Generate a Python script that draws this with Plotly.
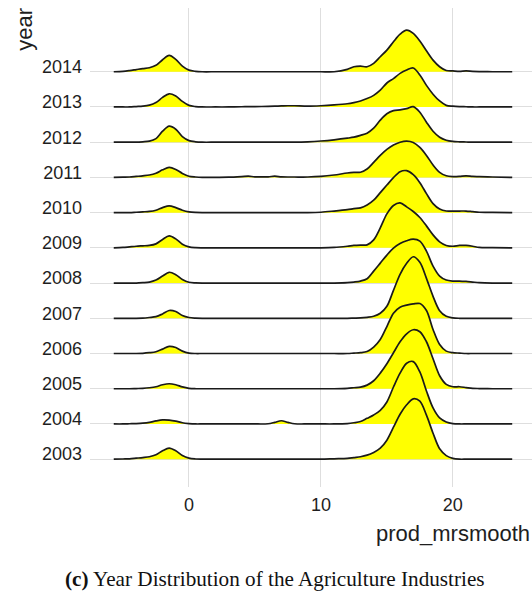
import plotly.graph_objects as go

# Evaluation points of the kernel density estimate (prod_mrsmooth)
X_GRID = [
    -5.7, -5, -4.5, -4, -3.5, -3, -2.5, -2, -1.5, -1,
    -0.5, 0, 0.5, 1, 2, 3, 4, 4.5, 5, 6,
    6.5, 7, 7.5, 8, 9, 10, 11, 12, 12.5, 13,
    13.5, 14, 14.5, 15, 15.5, 16, 16.5, 17, 17.5, 18,
    18.5, 19, 19.5, 20, 20.5, 21, 21.5, 22, 23, 24.5,
]

# Density per year, in percent per unit of prod_mrsmooth
dens_2014 = [0, 0.2, 0.6, 1.1, 1.6, 2.0, 3.2, 6.0, 8.2, 6.2,
             2.8, 0.8, 0.2, 0, 0, 0, 0, 0, 0, 0,
             0, 0, 0, 0, 0, 0, 0, 1.2, 2.5, 2.8,
             2.5, 4.2, 7.5, 10.8, 15.0, 18.8, 20.8, 19.2, 15.4, 10.5,
             5.8, 2.5, 0.6, 0.4, 0.2, 0.4, 0.2, 0.1, 0, 0]
dens_2013 = [0, 0, 0, 0.2, 0.4, 0.9, 2.2, 4.8, 6.6, 5.5,
             2.8, 0.8, 0.2, 0, 0, 0, 0.1, 0.2, 0.2, 0.3,
             0.4, 0.5, 0.6, 0.6, 0.4, 0.6, 1.0, 1.6, 2.2, 3.0,
             4.2, 5.8, 8.4, 12.0, 14.2, 16.8, 18.5, 19.5, 16.0, 10.8,
             6.4, 3.0, 0.8, 0.4, 0.2, 0.1, 0, 0, 0, 0]
dens_2012 = [0, 0, 0, 0, 0.2, 0.5, 1.8, 5.5, 8.0, 6.5,
             2.8, 0.8, 0.2, 0, 0, 0, 0, 0, 0, 0,
             0, 0, 0, 0, 0.2, 0.6, 1.2, 2.0, 2.5, 3.4,
             4.5, 7.0, 11.0, 14.2, 15.8, 16.2, 16.8, 17.8, 15.0, 10.0,
             5.5, 2.5, 1.0, 0.4, 0.2, 0.1, 0, 0, 0, 0]
dens_2011 = [0, 0.1, 0.2, 0.5, 0.8, 1.2, 2.1, 3.8, 5.0, 4.0,
             2.0, 0.6, 0.2, 0, 0, 0.1, 0.4, 0.6, 0.3, 0.3,
             0.6, 0.3, 0.2, 0.2, 0.2, 0.5, 1.2, 2.2, 2.5, 2.6,
             4.2, 7.5, 11.0, 14.0, 16.2, 17.6, 18.2, 17.5, 15.0, 11.0,
             6.2, 2.5, 0.8, 0.4, 0.5, 0.8, 0.5, 0.4, 0.2, 0]
dens_2010 = [0, 0, 0, 0.2, 0.4, 0.6, 1.2, 2.5, 3.4, 2.5,
             1.2, 0.4, 0.1, 0, 0, 0, 0, 0, 0, 0,
             0, 0, 0, 0, 0, 0.2, 0.8, 1.5, 2.0, 2.4,
             3.8, 6.2, 10.0, 13.8, 17.5, 20.5, 21.0, 19.0, 15.0, 9.5,
             4.5, 1.8, 0.8, 0.8, 0.8, 0.8, 0.5, 0.2, 0.1, 0]
dens_2009 = [0, 0.2, 0.5, 0.8, 1.0, 1.2, 2.0, 4.2, 6.0, 4.5,
             1.8, 0.5, 0.1, 0, 0, 0, 0, 0, 0, 0,
             0, 0, 0, 0, 0, 0, 0.2, 0.8, 1.2, 1.4,
             1.5, 4.0, 10.0, 17.0, 21.2, 22.5, 20.5, 18.2, 15.2, 11.0,
             6.5, 3.0, 1.2, 0.8, 1.2, 1.2, 0.8, 0.2, 0.1, 0]
dens_2008 = [0, 0, 0, 0, 0.2, 0.5, 1.5, 3.5, 5.4, 4.2,
             1.8, 0.4, 0.1, 0, 0, 0, 0, 0, 0, 0,
             0, 0, 0, 0, 0, 0, 0, 0.2, 0.5, 1.0,
             2.2, 6.0, 10.0, 14.0, 17.5, 19.8, 21.2, 22.0, 21.0, 16.0,
             8.5, 3.5, 1.5, 1.0, 1.0, 0.8, 0.5, 0.2, 0, 0]
dens_2007 = [0, 0, 0, 0, 0.1, 0.4, 0.8, 2.2, 3.9, 3.4,
             1.4, 0.4, 0.1, 0, 0, 0, 0, 0, 0, 0,
             0, 0, 0, 0, 0, 0, 0, 0, 0.1, 0.2,
             0.5, 1.0, 2.5, 6.0, 14.0, 22.0, 27.5, 30.8, 28.0, 20.0,
             11.0, 3.8, 1.0, 0.2, 0, 0, 0, 0, 0, 0]
dens_2006 = [0, 0, 0, 0, 0.1, 0.4, 0.9, 2.2, 3.6, 3.0,
             1.2, 0.2, 0, 0, 0, 0, 0, 0, 0, 0,
             0, 0, 0, 0, 0, 0, 0, 0, 0.2, 0.4,
             1.0, 3.2, 7.0, 13.5, 20.2, 23.2, 24.2, 24.8, 25.0, 21.5,
             12.0, 4.5, 1.2, 0.4, 0.2, 0, 0, 0, 0, 0]
dens_2005 = [0, 0, 0, 0.1, 0.2, 0.5, 1.0, 2.0, 2.5, 2.0,
             0.9, 0.2, 0, 0, 0, 0, 0, 0, 0, 0,
             0, 0, 0, 0, 0, 0, 0, 0.2, 0.5, 0.8,
             1.8, 4.0, 7.8, 12.5, 18.0, 23.5, 27.5, 29.5, 28.5, 23.5,
             15.0, 6.5, 2.2, 1.0, 1.0, 0.6, 0.2, 0.1, 0, 0]
dens_2004 = [0, 0, 0.1, 0.2, 0.4, 0.8, 1.5, 2.0, 1.9, 1.4,
             0.6, 0.2, 0, 0, 0, 0, 0, 0, 0, 0.1,
             0.8, 1.6, 0.8, 0.1, 0, 0, 0, 0.2, 0.6, 1.2,
             2.8, 4.5, 6.8, 11.0, 18.5, 25.4, 30.4, 31.2, 26.0, 16.5,
             8.0, 3.0, 1.0, 0.2, 0, 0, 0, 0, 0, 0]
dens_2003 = [0, 0.1, 0.2, 0.5, 0.8, 1.2, 2.2, 4.2, 5.5, 4.2,
             1.8, 0.5, 0.1, 0, 0, 0, 0, 0, 0, 0,
             0, 0, 0, 0, 0, 0, 0.2, 0.4, 0.8, 1.2,
             2.0, 3.4, 5.5, 9.5, 16.0, 22.5, 27.2, 30.2, 29.0, 22.0,
             13.0, 5.2, 1.8, 0.4, 0, 0, 0, 0, 0, 0]

YEARS = [2014, 2013, 2012, 2011, 2010, 2009, 2008, 2007, 2006, 2005, 2004, 2003]
DENSITIES = [dens_2014, dens_2013, dens_2012, dens_2011, dens_2010, dens_2009,
             dens_2008, dens_2007, dens_2006, dens_2005, dens_2004, dens_2003]

# ridge height: rows of the year axis per percent of density
RIDGE_SCALE = 0.05675

TEXT = "#1e1e1e"
FILL = "#ffff00"

fig = go.Figure()

# top ridge first so lower ridges are painted over it
for year, dens in zip(YEARS, DENSITIES):
    fig.add_trace(go.Scatter(
        x=[X_GRID[0], X_GRID[-1]], y=[year, year], mode="lines",
        line=dict(width=0, color="rgba(0,0,0,0)"),
        hoverinfo="skip", showlegend=False,
    ))
    fig.add_trace(go.Scatter(
        x=X_GRID, y=[year + d * RIDGE_SCALE for d in dens], mode="lines",
        line=dict(color="#1a1a1a", width=1.7, shape="spline", smoothing=0.9),
        fill="tonexty", fillcolor=FILL,
        hoverinfo="skip", showlegend=False,
    ))

fig.update_layout(
    width=532, height=596,
    margin=dict(l=90, r=0, t=8, b=109),
    paper_bgcolor="white", plot_bgcolor="white",
    font=dict(family="Liberation Sans, Arial, sans-serif", color=TEXT, size=18),
    xaxis=dict(
        range=[-7.5, 26.0], tickvals=[0, 10, 20], ticktext=["0", "10", "20"],
        showgrid=True, gridcolor="#dedede", gridwidth=1,
        zeroline=False, showline=False, ticks="",
        ticklabelstandoff=5,
        tickfont=dict(size=18, color=TEXT),
    ),
    yaxis=dict(
        range=[2002.21, 2015.81], tickvals=YEARS, ticktext=[str(y) for y in YEARS],
        showgrid=True, gridcolor="#dedede", gridwidth=1,
        zeroline=False, showline=False, ticks="",
        ticklabelstandoff=7, ticklabelshift=-5,
        tickfont=dict(size=18, color=TEXT),
    ),
    annotations=[
        dict(text="year", textangle=-90, xref="paper", yref="paper",
             x=-0.149, y=0.955, xanchor="center", yanchor="middle",
             showarrow=False, font=dict(size=22, color=TEXT)),
        dict(text="prod_mrsmooth", xref="paper", yref="paper",
             x=1.0, y=-0.098, xanchor="right", yanchor="middle",
             showarrow=False, font=dict(size=22, color=TEXT)),
        dict(text="<b>(c)</b> Year Distribution of the Agriculture Industries",
             xref="paper", yref="paper", x=0.4186, y=-0.193,
             xanchor="center", yanchor="middle", showarrow=False,
             font=dict(family="Liberation Serif, Times New Roman, serif",
                       size=21.2, color="#111111")),
    ],
)

fig.write_html("out.html")
